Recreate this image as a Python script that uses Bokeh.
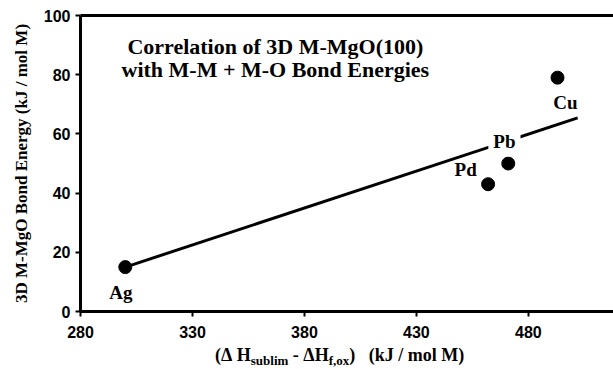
from bokeh.plotting import figure
from bokeh.models import Range1d, FixedTicker, LinearAxis, Label, Div
from bokeh.layouts import column
from bokeh.embed import file_html
from bokeh.resources import INLINE

# ---- data ----
metals = ["Ag", "Pd", "Pb", "Cu"]
dh_diff = [300, 462, 471, 493]          # (ΔH_sublim - ΔH_f,ox) kJ/mol M
bond_energy = [15, 43, 50, 79]          # 3D M-MgO bond energy kJ/mol M
name_x = [298, 452, 469.3, 496.5]
name_y = [6.3, 48, 57.6, 70.5]
fit_x = [300, 502]
fit_y = [15, 65.4]
x_ticks = [280, 330, 380, 430, 480]
y_ticks = [0, 20, 40, 60, 80, 100]

SERIF = "Liberation Serif"
SANS = "Liberation Sans"

p = figure(width=613, height=343, output_backend="svg", toolbar_location=None,
           x_range=Range1d(280, 518), y_range=Range1d(0, 100),
           min_border_left=80, min_border_right=0, min_border_top=15,
           min_border_bottom=32, margin=0)
p.grid.visible = False
p.outline_line_color = None
p.background_fill_color = "white"
p.border_fill_color = "white"

for ax in (p.xaxis[0], p.yaxis[0]):
    ax.axis_line_width = 3
    ax.axis_line_color = "black"
    ax.major_tick_line_width = 2
    ax.major_tick_out = 5
    ax.major_tick_in = 0
    ax.minor_tick_line_color = None
    ax.major_label_text_font = SANS
    ax.major_label_text_font_style = "bold"
    ax.major_label_text_font_size = "16px"
    ax.major_label_text_color = "black"

p.xaxis.ticker = FixedTicker(ticks=x_ticks)
p.yaxis.ticker = FixedTicker(ticks=y_ticks)
p.xaxis.major_label_standoff = 9
p.yaxis.major_label_standoff = 5

p.yaxis.axis_label = "3D M-MgO Bond Energy (kJ / mol M)"
p.yaxis.axis_label_text_font = SERIF
p.yaxis.axis_label_text_font_style = "bold"
p.yaxis.axis_label_text_font_size = "17px"
p.yaxis.axis_label_text_color = "black"
p.yaxis.axis_label_standoff = 10

top = LinearAxis(ticker=FixedTicker(ticks=[]), axis_line_width=3,
                 major_tick_line_color=None, minor_tick_line_color=None,
                 major_label_text_font_size="0px")
p.add_layout(top, "above")

# regression line and points
p.line(fit_x, fit_y, line_width=3, line_color="black")
p.scatter(dh_diff, bond_energy, size=13, color="black")

for n, lx, ly in zip(metals, name_x, name_y):
    kw = {}
    if n == "Pb":
        kw = dict(background_fill_color="white", padding=5)
    p.add_layout(Label(x=lx, y=ly, text=n, text_font=SERIF, text_font_style="bold",
                       text_font_size="19px", text_align="center",
                       text_baseline="middle", text_color="black", **kw))

# title inside plot
for txt, yy in (("Correlation of 3D M-MgO(100)", 89.5), ("with M-M + M-O Bond Energies", 81.9)):
    p.add_layout(Label(x=367, y=yy, text=txt, text_font=SERIF, text_font_style="bold",
                       text_font_size="22px", text_align="center",
                       text_baseline="alphabetic", text_color="black"))

# x axis title with subscripts
SUB = "font-size:13px;line-height:0;position:relative;top:4px;vertical-align:baseline"
xlabel_html = (
    "<div style=\"font-family:'Liberation Serif';font-weight:bold;font-size:18px;"
    "line-height:20px;padding-top:2px;padding-left:215px;white-space:nowrap;color:black;\">"
    f"(&Delta;&nbsp;H<span style='{SUB}'>sublim</span>"
    f" - &Delta;H<span style='{SUB}'>f,ox</span>)"
    "&nbsp;&nbsp;&nbsp;(kJ / mol M)</div>"
)
xlabel = Div(text=xlabel_html, width=613, height=26, margin=0)

layout = column(p, xlabel, spacing=0, margin=0)
open("out.html", "w").write(file_html(layout, INLINE))
